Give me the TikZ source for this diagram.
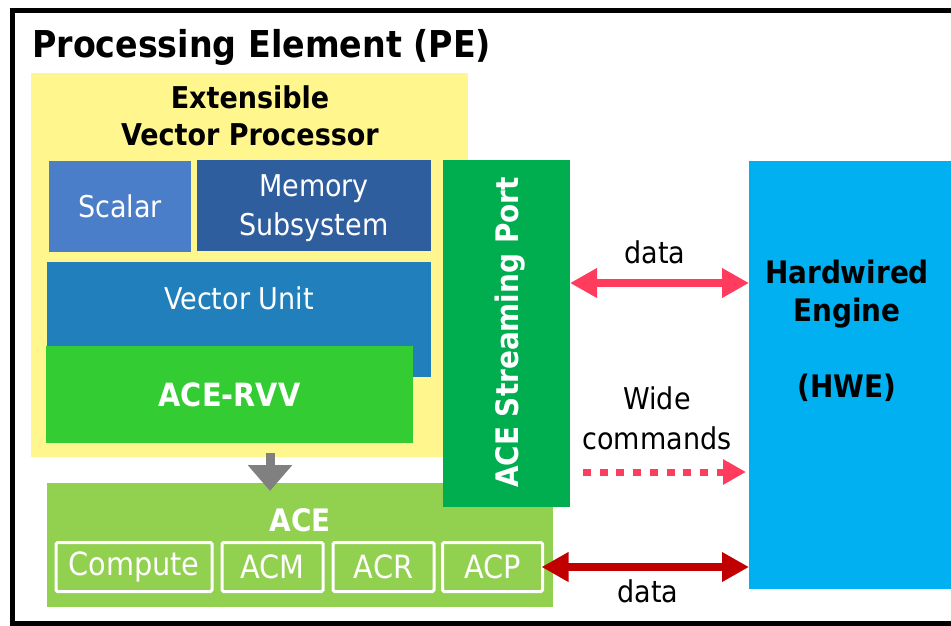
\documentclass[tikz,border=0pt]{standalone}
\usepackage{fontspec}
\setmainfont{DejaVu Sans Condensed}[BoldFont={DejaVu Sans Condensed Bold}]
\usetikzlibrary{arrows.meta}
\definecolor{cyellow}{HTML}{FFF68E}
\definecolor{cscalar}{HTML}{4A7EC8}
\definecolor{cmemory}{HTML}{2F5E9E}
\definecolor{cvector}{HTML}{2180BB}
\definecolor{crvv}{HTML}{33CC33}
\definecolor{casp}{HTML}{00AD4F}
\definecolor{cace}{HTML}{92D050}
\definecolor{chwe}{HTML}{00B0F0}
\definecolor{cpink}{HTML}{FF3B5E}
\definecolor{cdred}{HTML}{C00000}
\definecolor{cgray}{HTML}{808080}
\begin{document}
\begin{tikzpicture}[x=1pt,y=-1pt,
  box/.style={draw=none, inner sep=0pt, outer sep=0pt},
  rtext/.style={font=\fontsize{30}{39}\selectfont, align=center, inner sep=0pt},
  btext/.style={font=\fontsize{31}{38}\selectfont\bfseries, align=center, inner sep=0pt},
  subbox/.style={draw=white, line width=3pt, rounded corners=1.5pt, inner sep=0pt, outer sep=0pt,
    minimum height=49pt, font=\fontsize{32}{38}\selectfont, text=white},
  pinkarrow/.style={draw=cpink, line width=8pt, {Triangle[length=27pt,width=28pt]}-{Triangle[length=27pt,width=28pt]}},
  redarrow/.style={draw=cdred, line width=8pt, {Triangle[length=27pt,width=28pt]}-{Triangle[length=27pt,width=28pt]}},
  dotarrow/.style={draw=cpink, line width=7pt, dash pattern=on 8pt off 8.7pt, -{Triangle[length=23pt,width=24pt]}},
  grayarrow/.style={draw=cgray, line width=9pt, -{Triangle[length=26pt,width=43pt]}}
]
\useasboundingbox (0,0) rectangle (951,625);
\fill[white] (0,0) rectangle (951,625);
\begin{scope}
\clip (0,0) rectangle (951,625);
% outer frame
\draw[line width=5pt] (12.5,10.5) rectangle (975,623.5);
\node[anchor=base west, inner sep=0pt, font=\fontsize{37}{44}\selectfont\bfseries] (title) at (32,57) {Processing Element (PE)};

% Extensible vector processor
\node[box, fill=cyellow, minimum width=437pt, minimum height=384pt] (evp) at (249.5,265) {};
\node[btext, font=\fontsize{30}{37}\selectfont\bfseries] (evptext) at (250,116) {Extensible\\Vector Processor};
\node[box, fill=cscalar, minimum width=142pt, minimum height=91pt, rtext, text=white] (scalar) at (120,206.5) {Scalar};
\node[box, fill=cmemory, minimum width=234pt, minimum height=91pt] (memory) at (314,205.5) {};
\node[rtext, text=white] (memtext) at (314,208) {Memory\\Subsystem};
\node[box, fill=cvector, minimum width=384pt, minimum height=115pt] (vector) at (239,319.5) {};
\node[rtext, text=white] (vectext) at (239,298.5) {Vector Unit};
\node[box, fill=crvv, minimum width=367pt, minimum height=97pt, text=white, font=\fontsize{32}{38}\selectfont\bfseries] (rvv) at (229.5,394.5) {ACE-RVV};

% ACE
\node[box, fill=cace, minimum width=506pt, minimum height=124pt] (ace) at (300,545) {};
\node[btext, text=white] (acetext) at (300,520) {ACE};
\node[subbox, minimum width=156pt] (compute) at (134,567) {Compute};
\node[subbox, minimum width=101pt] (acm) at (272.5,567) {ACM};
\node[subbox, minimum width=101pt] (acr) at (383.5,567) {ACR};
\node[subbox, minimum width=100pt] (acp) at (492.5,567) {ACP};

% gray arrow
\draw[grayarrow, shorten <=-4pt, shorten >=-8pt] (evp.south -| 270,0) -- (ace.north -| 270,0);

% ACE streaming port
\node[box, fill=casp, minimum width=127pt, minimum height=347pt] (asp) at (506.5,333.5) {};
\node[btext, text=white, rotate=90] (asptext) at (510,332.5) {ACE Streaming Port};

% HWE
\node[box, fill=chwe, minimum width=211pt, minimum height=428pt] (hwe) at (854.5,375) {};
\node[btext] (hwetext) at (847,331) {Hardwired\\Engine\\[38pt](HWE)};

% connectors
\draw[pinkarrow] (asp.east |- 0,283) -- (hwe.west |- 0,283);
\node[rtext] (data1) at (655,252) {data};
\draw[dotarrow, shorten <=13pt, shorten >=3pt] (asp.east |- 0,472) -- (hwe.west |- 0,472);
\node[rtext, font=\fontsize{30}{40}\selectfont] (wide) at (657,418) {Wide\\commands};
\draw[redarrow, shorten <=-1pt] (acp.east) -- (hwe.west |- acp.east);
\node[rtext] (data2) at (648,591) {data};
\end{scope}
\end{tikzpicture}
\end{document}
